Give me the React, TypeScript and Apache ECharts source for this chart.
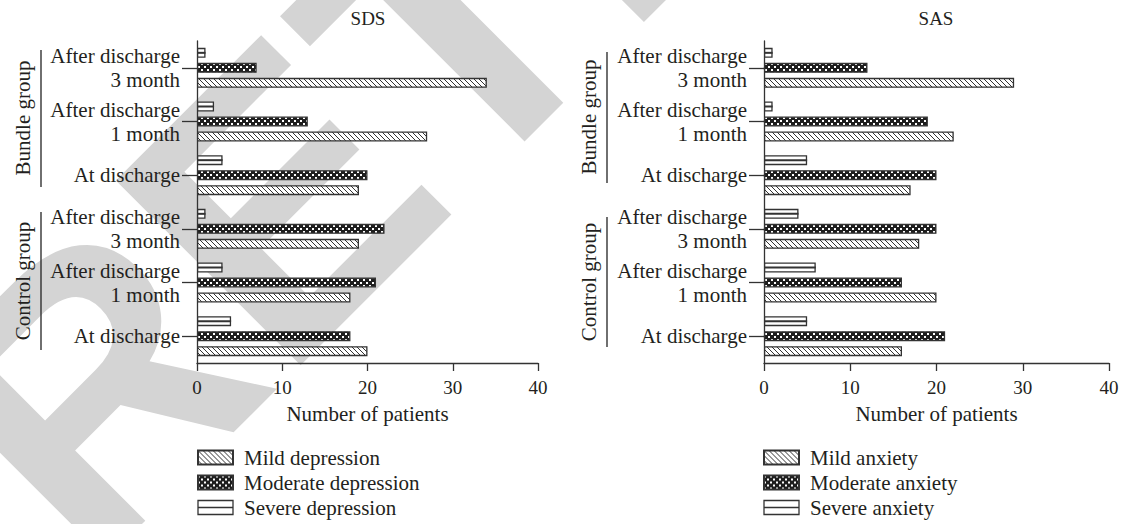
import React, { useEffect, useRef } from "react";
import * as echarts from "echarts";

// Categories, bottom to top: Control group (At, 1 month, 3 month), Bundle group (At, 1 month, 3 month)
const categories = [
  "At discharge",
  "After discharge\n1 month",
  "After discharge\n3 month",
  "At discharge",
  "After discharge\n1 month",
  "After discharge\n3 month",
];
const sdsMild = [20, 18, 19, 19, 27, 34];
const sdsModerate = [18, 21, 22, 20, 13, 7];
const sdsSevere = [4, 3, 1, 3, 2, 1];
const sasMild = [16, 20, 18, 17, 22, 29];
const sasModerate = [21, 16, 20, 20, 19, 12];
const sasSevere = [5, 6, 4, 5, 1, 1];
const sdsNames = ["Mild depression", "Moderate depression", "Severe depression"];
const sasNames = ["Mild anxiety", "Moderate anxiety", "Severe anxiety"];
const titles = ["SDS", "SAS"];
const groupNames = ["Bundle group", "Control group"];
const axisName = "Number of patients";
const watermark = "RETRACTED";
const xMin = 0;
const xMax = 40;
const xInterval = 10;

const FONT = "'Liberation Serif', 'Times New Roman', serif";
const TEXT = "#231f20";
const LINE = "#333333";
const FS = 21;

function hatchPattern() {
  const s = 5;
  const c = document.createElement("canvas");
  c.width = s;
  c.height = s;
  const ctx = c.getContext("2d")!;
  ctx.fillStyle = "#ffffff";
  ctx.fillRect(0, 0, s, s);
  ctx.strokeStyle = "#333333";
  ctx.lineWidth = 1;
  ctx.beginPath();
  ctx.moveTo(-1, -1);
  ctx.lineTo(s + 1, s + 1);
  ctx.moveTo(-1, s - 1);
  ctx.lineTo(1, s + 1);
  ctx.moveTo(s - 1, -1);
  ctx.lineTo(s + 1, 1);
  ctx.stroke();
  return { image: c.toDataURL(), repeat: "repeat", imageWidth: s, imageHeight: s };
}

function dotPattern() {
  const s = 6;
  const c = document.createElement("canvas");
  c.width = s;
  c.height = s;
  const ctx = c.getContext("2d")!;
  ctx.fillStyle = "#1e1e1e";
  ctx.fillRect(0, 0, s, s);
  ctx.fillStyle = "#ffffff";
  ctx.fillRect(0, 0, 2, 2);
  ctx.fillRect(3, 3, 2, 2);
  return { image: c.toDataURL(), repeat: "repeat", imageWidth: s, imageHeight: s };
}

const SEVERE_ICON = "path://M0,0H35V14H0Z M0,7H35";

export default function App() {
  const ref = useRef<HTMLDivElement>(null);
  useEffect(() => {
    if (!ref.current) return;
    const chart = echarts.init(ref.current, null, { renderer: "svg" });
    const hatch = hatchPattern();
    const dots = dotPattern();

    const grids = [
      { left: 197, width: 341, top: 41, height: 322 },
      { left: 764, width: 345, top: 41, height: 322 },
    ];

    const makeSeries = (idx: number, names: string[], mild: number[], moderate: number[], severe: number[]) => [
      {
        type: "bar",
        name: names[2],
        xAxisIndex: idx,
        yAxisIndex: idx,
        data: severe,
        barWidth: 10,
        barGap: "50%",
        itemStyle: { color: "#ffffff", borderColor: LINE, borderWidth: 1.3 },
      },
      {
        type: "bar",
        name: names[1],
        xAxisIndex: idx,
        yAxisIndex: idx,
        data: moderate,
        barWidth: 10,
        barGap: "50%",
        itemStyle: { color: dots, borderColor: LINE, borderWidth: 1.3 },
      },
      {
        type: "bar",
        name: names[0],
        xAxisIndex: idx,
        yAxisIndex: idx,
        data: mild,
        barWidth: 10,
        barGap: "50%",
        itemStyle: { color: hatch, borderColor: LINE, borderWidth: 1.3 },
      },
      {
        type: "custom",
        name: names[2] + " line",
        xAxisIndex: idx,
        yAxisIndex: idx,
        silent: true,
        z: 3,
        data: severe.map((v, i) => [v, i]),
        encode: { x: 0, y: 1 },
        renderItem: (params: any, api: any) => {
          const end = api.coord([api.value(0), api.value(1)]);
          const start = api.coord([0, api.value(1)]);
          const y = end[1] - 15;
          return {
            type: "line",
            shape: { x1: start[0], y1: y, x2: end[0], y2: y },
            style: { stroke: LINE, lineWidth: 2 },
          };
        },
      },
    ];

    const xAxes = [0, 1].map((i) => ({
      type: "value",
      gridIndex: i,
      min: xMin,
      max: xMax,
      interval: xInterval,
      splitLine: { show: false },
      axisLine: { show: true, lineStyle: { color: LINE, width: 1.3 } },
      axisTick: { show: true, length: 8, lineStyle: { color: LINE, width: 1.3 } },
      axisLabel: { color: TEXT, fontFamily: FONT, fontSize: 19, margin: 15 },
      name: axisName,
      nameLocation: "middle",
      nameGap: 40,
      nameTextStyle: { color: TEXT, fontFamily: FONT, fontSize: FS },
    }));

    const yAxes = [0, 1].map((i) => ({
      type: "category",
      gridIndex: i,
      data: categories,
      axisLine: { show: true, lineStyle: { color: LINE, width: 1.3 } },
      axisTick: { show: true, length: 15, alignWithLabel: true, lineStyle: { color: LINE, width: 1.3 } },
      axisLabel: {
        color: TEXT,
        fontFamily: FONT,
        fontSize: FS,
        margin: 17,
        lineHeight: 24,
        align: "right",
      },
      splitLine: { show: false },
    }));

    const legendCommon = {
      orient: "vertical",
      top: 447,
      padding: 0,
      itemWidth: 35,
      itemHeight: 14,
      itemGap: 4,
      textStyle: { color: TEXT, fontFamily: FONT, fontSize: FS, lineHeight: 21, padding: [0, 0, 0, 6] },
    };

    const legendData = (names: string[]) => [
      { name: names[0], icon: "rect" },
      { name: names[1], icon: "rect" },
      { name: names[2], icon: SEVERE_ICON, itemStyle: { color: "#ffffff", borderColor: LINE, borderWidth: 1.3 } },
    ];

    const textEl = (text: string, x: number, y: number, rotation = 0, size = FS) => ({
      type: "text",
      x,
      y,
      rotation,
      z: 10,
      style: {
        text,
        fill: TEXT,
        fontFamily: FONT,
        fontSize: size,
        align: "center",
        verticalAlign: "middle",
      },
    });
    const lineEl = (x: number, y1: number, y2: number) => ({
      type: "line",
      z: 10,
      shape: { x1: x, y1, x2: x, y2 },
      style: { stroke: "#222", lineWidth: 1.3 },
    });

    chart.setOption({
      animation: false,
      backgroundColor: "#ffffff",
      grid: grids,
      xAxis: xAxes,
      yAxis: yAxes,
      legend: [
        { ...legendCommon, left: 197, data: legendData(sdsNames) },
        { ...legendCommon, left: 763, data: legendData(sasNames) },
      ],
      series: [
        ...makeSeries(0, sdsNames, sdsMild, sdsModerate, sdsSevere),
        ...makeSeries(1, sasNames, sasMild, sasModerate, sasSevere),
      ],
      graphic: {
        elements: [
          {
            type: "text",
            x: 824,
            y: -344,
            z: -10,
            rotation: Math.PI / 4,
            silent: true,
            style: {
              text: watermark,
              fill: "#d4d4d4",
              fontFamily: "'Liberation Sans', Arial, sans-serif",
              fontWeight: "bold",
              fontSize: 380,
              align: "center",
              verticalAlign: "middle",
            },
          },
          textEl(titles[0], 368, 18, 0, 19),
          textEl(titles[1], 936, 18, 0, 19),
          textEl(groupNames[0], 23, 118, Math.PI / 2),
          lineEl(41, 50, 187),
          textEl(groupNames[1], 23, 281, Math.PI / 2),
          lineEl(41, 212, 350),
          textEl(groupNames[0], 589, 117, Math.PI / 2),
          lineEl(607, 52, 183),
          textEl(groupNames[1], 589, 282, Math.PI / 2),
          lineEl(607, 217, 347),
        ],
      },
    });
    return () => chart.dispose();
  }, []);
  return (
    <div
      ref={ref}
      style={{ position: "fixed", left: 0, top: 0, width: 1122, height: 524 }}
    />
  );
}
